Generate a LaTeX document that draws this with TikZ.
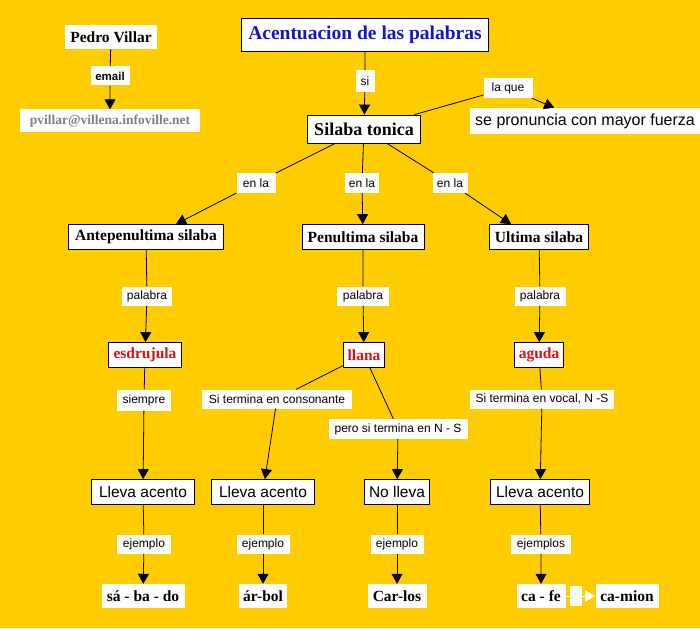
\documentclass[tikz,border=0pt]{standalone}
\usepackage{fontspec}
\setmainfont{Liberation Serif}
\newfontfamily\lsans{Liberation Sans}
\usetikzlibrary{arrows.meta}
\definecolor{bgc}{RGB}{255,204,0}
\definecolor{ttl}{RGB}{20,20,200}
\definecolor{rd}{RGB}{210,20,20}
\definecolor{gry}{RGB}{128,128,128}
\begin{document}
\begin{tikzpicture}[x=1pt,y=-1pt,
 sz/.style 2 args={minimum width=#1pt,minimum height=#2pt},
 base/.style={fill=white,inner sep=0pt,align=center},
 box/.style={base,draw=black,line width=0.8pt},
 bold/.style={font=\fontsize{15.5}{18}\selectfont\bfseries},
 lbl/.style={base,font=\lsans\fontsize{12}{14}\selectfont},
 big/.style={font=\lsans\fontsize{15.5}{18}\selectfont},
 conn/.style={line width=0.8pt,-{Triangle[width=11pt,length=10pt]}},
]
\fill[bgc] (0,0) rectangle (700,628);
\useasboundingbox (0,0) rectangle (700,628);

% top left
\node[base,bold,sz={92}{24}] (pedro) at (111,37) {Pedro Villar};
\node[lbl,sz={39}{19},font=\lsans\fontsize{11.5}{14}\selectfont\bfseries] (email) at (110,76) {email};
\node[base,sz={180}{23},font=\fontsize{13.5}{16}\selectfont\bfseries,text=gry] (mail) at (110,121) {pvillar@villena.infoville.net};

% title
\node[box,sz={247}{33},font=\fontsize{19.5}{22}\selectfont\bfseries,text=ttl] (title) at (365,35) {Acentuacion de las palabras};
\node[lbl,sz={19}{22}] (si) at (365,81) {si};
\node[box,sz={113}{28},font=\fontsize{18}{20}\selectfont\bfseries] (tonica) at (364,129) {Silaba tonica};
\node[lbl,sz={49}{20}] (laque) at (508,88) {la que};
\node[base,big,sz={230}{26},font=\lsans\fontsize{16}{18}\selectfont] (fuerza) at (585,121) {se pronuncia con mayor fuerza};

% en la
\node[lbl,sz={39}{20}] (enla1) at (256,183) {en la};
\node[lbl,sz={34}{20}] (enla2) at (362,183) {en la};
\node[lbl,sz={35}{20}] (enla3) at (450,183) {en la};

% syllables
\node[box,bold,sz={155}{25}] (ante) at (146,237) {Antepenultima silaba};
\node[box,bold,sz={122}{25}] (pen) at (363,237) {Penultima silaba};
\node[box,bold,sz={99}{25}] (ult) at (539,237) {Ultima silaba};

\node[lbl,sz={50}{19}] (pal1) at (147,296) {palabra};
\node[lbl,sz={52}{19}] (pal2) at (363,296) {palabra};
\node[lbl,sz={51}{19}] (pal3) at (540,296) {palabra};

\node[box,bold,sz={73}{25},text=rd] (esdr) at (145,355) {esdrujula};
\node[box,bold,sz={41}{25},text=rd] (llana) at (364,355) {llana};
\node[box,bold,sz={49}{25},text=rd] (aguda) at (539,355) {aguda};

\node[lbl,sz={54}{21}] (siempre) at (144,400) {siempre};
\node[lbl,sz={150}{19}] (cons) at (277,399) {Si termina en consonante};
\node[lbl,sz={139}{20}] (pero) at (398,429) {pero si termina en N - S};
\node[lbl,sz={144}{19}] (vocal) at (542,399) {Si termina en vocal, N -S};

\node[box,big,sz={103}{25}] (ll1) at (143,492) {Lleva acento};
\node[box,big,sz={103}{25}] (ll2) at (263,492) {Lleva acento};
\node[box,big,sz={65}{25}] (nol) at (397,492) {No lleva};
\node[box,big,sz={99}{25}] (ll3) at (540,492) {Lleva acento};

\node[lbl,sz={54}{19}] (ej1) at (144,544) {ejemplo};
\node[lbl,sz={53}{19}] (ej2) at (263,544) {ejemplo};
\node[lbl,sz={53}{19}] (ej3) at (397,544) {ejemplo};
\node[lbl,sz={60}{19}] (ej4) at (541,544) {ejemplos};

\node[base,bold,sz={83}{24}] (sab) at (143,596) {sá - ba - do};
\node[base,bold,sz={48}{24}] (arb) at (263,596) {ár-bol};
\node[base,bold,sz={59}{24}] (car) at (397,596) {Car-los};
\node[base,bold,sz={49}{24}] (cafe) at (541,596) {ca - fe};
\node[lbl,sz={12}{20},text=bgc!60] (comma) at (576,596) {,};
\node[base,bold,sz={63}{24}] (camion) at (627,596) {ca-mion};

% connectors
\draw[conn] (pedro) -- (email) -- (mail);
\draw[conn] (title) -- (si) -- (tonica);
\draw[conn] (tonica) -- (laque) -- (fuerza);
\draw[conn] (tonica) -- (enla1) -- ([xshift=30pt]ante.north);
\draw[conn] (tonica) -- (enla2) -- (pen);
\draw[conn] (tonica) -- (enla3) -- ([xshift=-28pt]ult.north);
\draw[conn] (ante) -- (pal1) -- (esdr);
\draw[conn] (pen) -- (pal2) -- (llana);
\draw[conn] (ult) -- (pal3) -- (aguda);
\draw[conn] (esdr) -- (siempre) -- (ll1);
\draw[conn] (llana) -- (cons) -- (ll2);
\draw[conn] (llana) -- (pero) -- (nol);
\draw[conn] (aguda) -- (vocal) -- (ll3);
\draw[conn] (ll1) -- (ej1) -- (sab);
\draw[conn] (ll2) -- (ej2) -- (arb);
\draw[conn] (nol) -- (ej3) -- (car);
\draw[conn] (ll3) -- (ej4) -- (cafe);
\draw[conn,draw=white,fill=white] (cafe) -- (comma) -- (camion);
\end{tikzpicture}
\end{document}
